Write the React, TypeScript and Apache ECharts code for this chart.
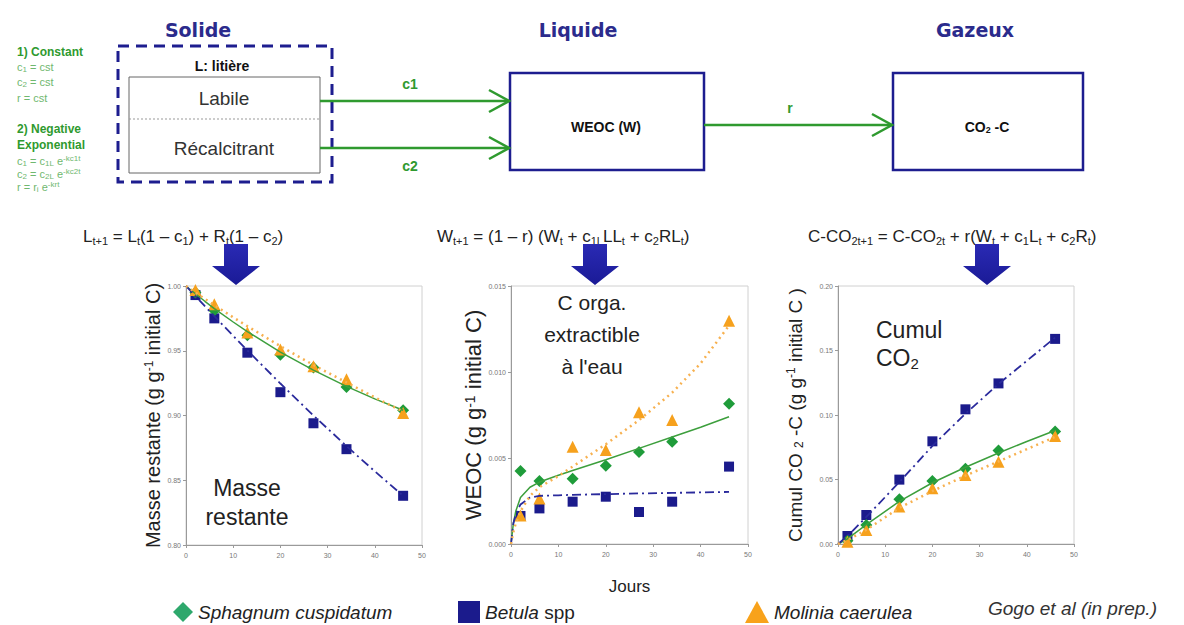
import React, { useEffect, useRef } from 'react';
import * as echarts from 'echarts';

const FONT = '"Liberation Sans", Arial, sans-serif';
const TITLE_FONT = '"DejaVu Sans", sans-serif';

// ---- data ----
const days = [2, 6, 13, 20, 27, 34, 46];
const xRange = [0, 50, 10];

// Masse restante (g g-1 initial C)
const massRange = [0.8, 1.0, 0.05];
const massSphagnum = [0.995, 0.981, 0.962, 0.947, 0.937, 0.922, 0.904];
const massBetula = [0.993, 0.975, 0.9485, 0.918, 0.894, 0.874, 0.838];
const massMolinia = [0.997, 0.986, 0.964, 0.951, 0.938, 0.928, 0.902];
const massFitDays = [0, 2, 4, 6, 10, 13, 20, 27, 34, 40, 46];
const massFitSphagnum = [1.0, 0.994, 0.9882, 0.9826, 0.9722, 0.9648, 0.949, 0.935, 0.9225, 0.9128, 0.904];
const massFitBetula = [1.0, 0.9922, 0.9844, 0.9767, 0.9615, 0.9503, 0.9247, 0.9, 0.8764, 0.8569, 0.838];
const massFitMolinia = [1.0, 0.995, 0.99, 0.9852, 0.9758, 0.969, 0.9535, 0.939, 0.9255, 0.914, 0.903];

// WEOC (g g-1 initial C)
const weocRange = [0, 0.015, 0.005];
const weocSphagnum = [0.00424, 0.00366, 0.0038, 0.00455, 0.00535, 0.00595, 0.00816];
const weocBetula = [0.00163, 0.00207, 0.00246, 0.00275, 0.00186, 0.00246, 0.0045];
const weocMolinia = [0.00165, 0.00265, 0.00566, 0.00547, 0.00766, 0.00721, 0.01298];
const weocFitDays = [0, 0.5, 1, 2, 4, 6, 10, 13, 20, 27, 34, 40, 46];
const weocFitSphagnum = [0, 0.0012, 0.0019, 0.0027, 0.0033, 0.0036, 0.004, 0.00427, 0.0049, 0.00556, 0.00622, 0.00679, 0.0074];
const weocFitBetula = [0, 0.0012, 0.0017, 0.0023, 0.0027, 0.0028, 0.00283, 0.00286, 0.0029, 0.00294, 0.00297, 0.003, 0.00303];
const weocFitMolinia = [0, 0.0007, 0.0012, 0.0019, 0.0028, 0.0033, 0.00395, 0.0045, 0.0058, 0.0072, 0.0088, 0.0105, 0.0127];

// Cumul CO2-C (g g-1 initial C)
const co2Range = [0, 0.2, 0.05];
const co2Sphagnum = [0.0026, 0.0147, 0.0346, 0.0488, 0.0584, 0.0724, 0.0873];
const co2Betula = [0.0062, 0.0225, 0.0499, 0.0796, 0.1044, 0.1245, 0.159];
const co2Molinia = [0.0018, 0.0109, 0.029, 0.0432, 0.0535, 0.0638, 0.0837];
const co2FitDays = [0, 2, 6, 13, 20, 27, 34, 40, 46];
const co2FitSphagnum = [0, 0.004, 0.015, 0.033, 0.0475, 0.0595, 0.0705, 0.0795, 0.088];
const co2FitBetula = [0, 0.006, 0.021, 0.048, 0.076, 0.101, 0.124, 0.142, 0.16];
const co2FitMolinia = [0, 0.003, 0.011, 0.028, 0.041, 0.053, 0.064, 0.0735, 0.083];

const species = ['Sphagnum cuspidatum', 'Betula spp', 'Molinia caerulea'];

// ---- styles ----
const C_SPH = '#1f9c3a';
const C_BET = '#1b1b8c';
const C_MOL = '#f6a11d';
const L_SPH = '#3d9f3d';
const L_BET = '#2a2a9c';
const L_MOL = '#f7b150';
const NAVY = '#1d1d8f';
const GREEN = '#2f9a2f';
const GREEN_LIGHT = '#6fb86f';
const TITLE_COLOR = '#2b2b8c';

function pairs(xs: number[], ys: number[]) {
  return xs.map((x, i) => [x, ys[i]]);
}

function scatter(name: string, ys: number[], g: number, symbol: string, color: string, size: number) {
  return {
    name, type: 'scatter', xAxisIndex: g, yAxisIndex: g, data: pairs(days, ys),
    symbol, symbolSize: size, itemStyle: { color, opacity: 1 }, z: 3,
  };
}

function fit(name: string, xs: number[], ys: number[], g: number, color: string, type: any, width: number) {
  return {
    name, type: 'line', xAxisIndex: g, yAxisIndex: g, data: pairs(xs, ys),
    showSymbol: false, symbol: 'none', smooth: false,
    lineStyle: { color, width, type }, z: 4, silent: true,
  };
}

function xAxis(g: number, name?: string) {
  return {
    type: 'value', gridIndex: g, min: xRange[0], max: xRange[1], interval: xRange[2],
    axisLine: { show: true, lineStyle: { color: '#9a9a9a', width: 1 } },
    axisTick: { show: true, length: 3, lineStyle: { color: '#9a9a9a' } },
    axisLabel: { fontSize: 7, color: '#777', margin: 7, fontFamily: FONT },
    splitLine: { show: false },
    name: name || '', nameLocation: 'middle', nameGap: 34,
    nameTextStyle: { fontSize: 17, color: '#222', fontFamily: FONT },
  };
}

const subSup = (size: number) => ({
  s: { fontSize: size, fontFamily: FONT, color: '#222', padding: [8, 0, 0, 0] },
  p: { fontSize: size, fontFamily: FONT, color: '#222', padding: [0, 0, 8, 0] },
});

function yAxis(g: number, range: number[], digits: number, name: string, gap: number, size: number) {
  return {
    type: 'value', gridIndex: g, min: range[0], max: range[1], interval: range[2],
    axisLine: { show: true, lineStyle: { color: '#9a9a9a', width: 1 } },
    axisTick: { show: true, length: 3, lineStyle: { color: '#9a9a9a' } },
    axisLabel: { fontSize: 7, color: '#777', margin: 5, fontFamily: FONT, formatter: (v: number) => v.toFixed(digits) },
    splitLine: { show: false },
    name, nameLocation: 'middle', nameRotate: 90, nameGap: gap,
    nameTextStyle: { fontSize: size, color: '#222', fontFamily: FONT, rich: subSup(Math.round(size * 0.62)) },
  };
}

function txt(text: string, x: number, y: number, opts: any = {}) {
  const align = opts.align || 'center';
  const va = opts.va || 'middle';
  return {
    type: 'text', z: 10,
    style: {
      text, x, y,
      fill: opts.fill || '#222',
      fontSize: opts.size || 14,
      fontFamily: opts.family || FONT,
      fontWeight: opts.weight || 'normal',
      fontStyle: opts.style || 'normal',
      lineHeight: opts.lineHeight,
      align, verticalAlign: va, textAlign: align, textVerticalAlign: va,
      rich: opts.rich,
    },
  };
}

function richSub(size: number, fill: string, family = FONT, weight = 'normal', pad = 7) {
  return {
    s: { fontSize: size, fill, color: fill, fontFamily: family, fontWeight: weight, padding: [pad, 0, 0, 0] },
    p: { fontSize: size, fill, color: fill, fontFamily: family, fontWeight: weight, padding: [0, 0, pad, 0] },
  };
}

function downArrow(cx: number) {
  return {
    type: 'polygon', z: 10,
    shape: {
      points: [
        [cx - 12, 244], [cx + 12, 244], [cx + 12, 266], [cx + 24, 266],
        [cx, 285], [cx - 24, 266], [cx - 12, 266],
      ],
    },
    style: {
      fill: new echarts.graphic.LinearGradient(0, 0, 0, 1, [
        { offset: 0, color: '#2a2ab4' },
        { offset: 1, color: '#1a1a96' },
      ]),
    },
  };
}

function hArrow(x1: number, x2: number, y: number) {
  return [
    { type: 'line', z: 9, shape: { x1, y1: y, x2, y2: y }, style: { stroke: GREEN, lineWidth: 2.5 } },
    {
      type: 'polyline', z: 9,
      shape: { points: [[x2 - 20, y - 11], [x2, y], [x2 - 20, y + 11]] },
      style: { stroke: GREEN, lineWidth: 2.5, fill: 'none' },
    },
  ];
}

function buildOption() {
  const smallRich = richSub(8, GREEN_LIGHT, FONT, 'normal', 5);
  const formulaRich = richSub(11, '#222', FONT, 'normal', 9);

  const graphic: any[] = [
    // column titles
    txt('Solide', 198, 30, { size: 19, weight: 'bold', family: TITLE_FONT, fill: TITLE_COLOR }),
    txt('Liquide', 578, 30, { size: 19, weight: 'bold', family: TITLE_FONT, fill: TITLE_COLOR }),
    txt('Gazeux', 975, 30, { size: 19, weight: 'bold', family: TITLE_FONT, fill: TITLE_COLOR }),

    // left notes
    txt('1) Constant', 17, 52, { align: 'left', size: 12, weight: 'bold', fill: GREEN }),
    txt('c{s|1} = cst', 17, 67, { align: 'left', size: 11, fill: GREEN_LIGHT, rich: smallRich }),
    txt('c{s|2} = cst', 17, 82, { align: 'left', size: 11, fill: GREEN_LIGHT, rich: smallRich }),
    txt('r = cst', 17, 98, { align: 'left', size: 11, fill: GREEN_LIGHT }),
    txt('2) Negative', 17, 129, { align: 'left', size: 12, weight: 'bold', fill: GREEN }),
    txt('Exponential', 17, 145, { align: 'left', size: 12, weight: 'bold', fill: GREEN }),
    txt('c{s|1} = c{s|1L} e{p|-kc1t}', 17, 161, { align: 'left', size: 11, fill: GREEN_LIGHT, rich: smallRich }),
    txt('c{s|2} = c{s|2L} e{p|-kc2t}', 17, 174, { align: 'left', size: 11, fill: GREEN_LIGHT, rich: smallRich }),
    txt('r = r{s|i} e{p|-krt}', 17, 187, { align: 'left', size: 11, fill: GREEN_LIGHT, rich: smallRich }),

    // solid compartment
    {
      type: 'rect', z: 8, shape: { x: 118, y: 46, width: 214, height: 136 },
      style: { fill: 'none', stroke: NAVY, lineWidth: 3, lineDash: [11, 7] },
    },
    txt('L: litière', 222, 66, { size: 14, weight: 'bold', fill: '#111' }),
    {
      type: 'rect', z: 8, shape: { x: 129, y: 77, width: 191, height: 96 },
      style: { fill: '#fff', stroke: '#666', lineWidth: 1 },
    },
    {
      type: 'line', z: 9, shape: { x1: 129, y1: 119, x2: 320, y2: 119 },
      style: { stroke: '#999', lineWidth: 1, lineDash: [2, 2] },
    },
    txt('Labile', 224, 98, { size: 19, fill: '#333' }),
    txt('Récalcitrant', 224, 148, { size: 19, fill: '#333' }),

    // arrows between compartments
    ...hArrow(320, 509, 101),
    ...hArrow(320, 509, 148),
    ...hArrow(704, 892, 125),
    txt('c1', 410, 84, { size: 14, weight: 'bold', fill: GREEN }),
    txt('c2', 410, 166, { size: 14, weight: 'bold', fill: GREEN }),
    txt('r', 790, 108, { size: 14, weight: 'bold', fill: GREEN }),

    // liquid & gas boxes
    {
      type: 'rect', z: 8, shape: { x: 510, y: 73, width: 194, height: 97 },
      style: { fill: '#fff', stroke: NAVY, lineWidth: 2.5 },
    },
    txt('WEOC (W)', 606, 127, { size: 14, weight: 'bold', fill: '#111' }),
    {
      type: 'rect', z: 8, shape: { x: 893, y: 73, width: 190, height: 97 },
      style: { fill: '#fff', stroke: NAVY, lineWidth: 2.5 },
    },
    txt('CO{s|2} -C', 987, 127, {
      size: 14, weight: 'bold', fill: '#111', rich: richSub(9, '#111', FONT, 'bold', 6),
    }),

    // equations
    txt('L{s|t+1} = L{s|t}(1 – c{s|1}) + R{s|t}(1 – c{s|2})', 83, 236, {
      align: 'left', size: 17, rich: formulaRich,
    }),
    txt('W{s|t+1} = (1 – r) (W{s|t} + c{s|1L}LL{s|t} + c{s|2}RL{s|t})', 437, 236, {
      align: 'left', size: 17, rich: formulaRich,
    }),
    txt('C-CO{s|2t+1} = C-CO{s|2t} + r(W{s|t} + c{s|1}L{s|t} + c{s|2}R{s|t})', 808, 236, {
      align: 'left', size: 17, rich: formulaRich,
    }),

    // big arrows
    downArrow(236),
    downArrow(595),
    downArrow(987),

    // plot annotations
    txt('Masse\nrestante', 247, 502, { size: 23, lineHeight: 29, fill: '#222' }),
    txt("C orga.\nextractible\nà l'eau", 592, 334, { size: 21, lineHeight: 32, fill: '#222' }),
    txt('Cumul', 876, 330, { align: 'left', size: 23, fill: '#222' }),
    txt('CO{s|2}', 876, 358, { align: 'left', size: 23, fill: '#222', rich: richSub(15, '#222', FONT, 'normal', 10) }),

    // source
    txt('Gogo et al (in prep.)', 988, 608, { align: 'left', size: 19, style: 'italic', fill: '#333' }),
  ];

  const legendText = {
    fontSize: 19, fontStyle: 'italic', color: '#222', fontFamily: FONT,
    rich: {
      i: { fontSize: 19, fontStyle: 'italic', color: '#222', fontFamily: FONT },
      n: { fontSize: 19, fontStyle: 'normal', color: '#222', fontFamily: FONT },
    },
  };
  const legendFormatter = (name: string) =>
    name === 'Betula spp' ? '{i|Betula} {n|spp}' : '{i|' + name + '}';
  const legendTop = 597;
  const legend = [
    {
      data: [{ name: species[0], icon: 'diamond', itemStyle: { color: '#2ea86c' } }],
      left: 168, top: legendTop, itemWidth: 20, itemHeight: 20, textStyle: legendText,
      formatter: legendFormatter, selectedMode: false,
    },
    {
      data: [{ name: species[1], icon: 'rect', itemStyle: { color: C_BET } }],
      left: 453, top: legendTop - 1, itemWidth: 22, itemHeight: 22, textStyle: legendText,
      formatter: legendFormatter, selectedMode: false,
    },
    {
      data: [{ name: species[2], icon: 'triangle', itemStyle: { color: '#f8a21b' } }],
      left: 740, top: legendTop - 1, itemWidth: 24, itemHeight: 22, textStyle: legendText,
      formatter: legendFormatter, selectedMode: false,
    },
  ];

  const gridStyle = { show: true, borderColor: '#d0d0d0', borderWidth: 1, backgroundColor: 'transparent' };

  return {
    animation: false,
    backgroundColor: '#ffffff',
    textStyle: { fontFamily: FONT },
    grid: [
      { left: 186, top: 286, width: 236, height: 259, ...gridStyle },
      { left: 511, top: 286, width: 237, height: 258, ...gridStyle },
      { left: 838, top: 286, width: 236, height: 258, ...gridStyle },
    ],
    xAxis: [xAxis(0), xAxis(1, 'Jours'), xAxis(2)],
    yAxis: [
      yAxis(0, massRange, 2, 'Masse restante (g g{p|-1} initial C)', 23, 20),
      yAxis(1, weocRange, 3, 'WEOC (g g{p|-1} initial C)', 24, 22),
      yAxis(2, co2Range, 2, 'Cumul CO {s|2} -C (g g{p|-1} initial C )', 33, 19),
    ],
    legend,
    graphic,
    series: [
      scatter(species[1], massBetula, 0, 'rect', C_BET, 10),
      scatter(species[0], massSphagnum, 0, 'diamond', C_SPH, 12),
      scatter(species[2], massMolinia, 0, 'triangle', C_MOL, 12),
      fit('fit Sphagnum masse', massFitDays, massFitSphagnum, 0, L_SPH, 'solid', 1.5),
      fit('fit Betula masse', massFitDays, massFitBetula, 0, L_BET, [9, 4, 2, 4], 1.8),
      fit('fit Molinia masse', massFitDays, massFitMolinia, 0, L_MOL, [2, 4], 2.5),

      scatter(species[1], weocBetula, 1, 'rect', C_BET, 10),
      scatter(species[0], weocSphagnum, 1, 'diamond', C_SPH, 12),
      scatter(species[2], weocMolinia, 1, 'triangle', C_MOL, 12),
      fit('fit Sphagnum WEOC', weocFitDays, weocFitSphagnum, 1, L_SPH, 'solid', 1.5),
      fit('fit Betula WEOC', weocFitDays, weocFitBetula, 1, L_BET, [9, 4, 2, 4], 1.8),
      fit('fit Molinia WEOC', weocFitDays, weocFitMolinia, 1, L_MOL, [2, 4], 2.5),

      scatter(species[1], co2Betula, 2, 'rect', C_BET, 10),
      scatter(species[0], co2Sphagnum, 2, 'diamond', C_SPH, 12),
      scatter(species[2], co2Molinia, 2, 'triangle', C_MOL, 12),
      fit('fit Sphagnum CO2', co2FitDays, co2FitSphagnum, 2, L_SPH, 'solid', 1.5),
      fit('fit Betula CO2', co2FitDays, co2FitBetula, 2, L_BET, [9, 4, 2, 4], 1.8),
      fit('fit Molinia CO2', co2FitDays, co2FitMolinia, 2, L_MOL, [2, 4], 2.5),
    ],
  };
}

export default function App() {
  const ref = useRef<HTMLDivElement>(null);
  useEffect(() => {
    if (!ref.current) return;
    const chart = echarts.init(ref.current, null, { renderer: 'svg' });
    chart.setOption(buildOption() as any);
    return () => chart.dispose();
  }, []);
  return (
    <div
      ref={ref}
      style={{ position: 'fixed', left: 0, top: 0, width: 1184, height: 625, background: '#fff' }}
    />
  );
}
